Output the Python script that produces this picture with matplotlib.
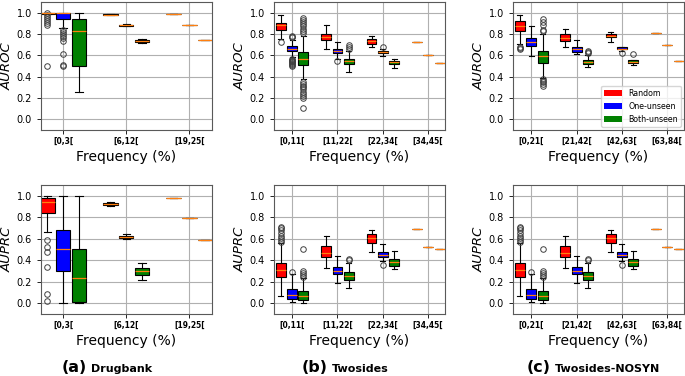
import matplotlib
matplotlib.use("Agg")
import matplotlib.pyplot as plt
from matplotlib.patches import Patch

# box stats per bin: (whislo, q1, med, q3, whishi, fliers)
methods = ["Random", "One-unseen", "Both-unseen"]
colors = ["#ff0000", "#0000ff", "#008000"]

db_bins = ["[0,3[", "[6,12[", "[19,25["]
db_auroc = {
    "Random": [(0.985, 0.99, 1.0, 1.0, 1.0, [1.0, 0.98, 0.96, 0.94, 0.92, 0.90, 0.88, 0.50]),
               (0.975, 0.978, 0.98, 0.983, 0.985, []),
               (0.99, 0.99, 0.99, 0.99, 0.99, [])],
    "One-unseen": [(0.86, 0.94, 1.0, 1.0, 1.0, [0.84, 0.82, 0.80, 0.78, 0.76, 0.73, 0.61, 0.51, 0.50]),
                   (0.87, 0.875, 0.88, 0.885, 0.89, []),
                   (0.88, 0.88, 0.88, 0.88, 0.88, [])],
    "Both-unseen": [(0.26, 0.50, 0.83, 0.94, 1.0, []),
                    (0.715, 0.72, 0.73, 0.74, 0.75, []),
                    (0.74, 0.74, 0.74, 0.74, 0.74, [])],
}
db_auprc = {
    "Random": [(0.66, 0.84, 0.94, 0.98, 1.0, [0.59, 0.52, 0.48, 0.34, 0.09, 0.02]),
               (0.90, 0.91, 0.92, 0.93, 0.94, []),
               (0.98, 0.98, 0.98, 0.98, 0.98, [])],
    "One-unseen": [(0.0, 0.30, 0.50, 0.68, 1.0, []),
                   (0.60, 0.61, 0.62, 0.63, 0.64, []),
                   (0.79, 0.79, 0.79, 0.79, 0.79, [])],
    "Both-unseen": [(0.0, 0.01, 0.23, 0.50, 1.0, []),
                    (0.22, 0.26, 0.30, 0.33, 0.37, []),
                    (0.59, 0.59, 0.59, 0.59, 0.59, [])],
}

ts_bins = ["[0,11[", "[11,22[", "[22,34[", "[34,45["]
ts_auroc = {
    "Random": [(0.75, 0.84, 0.88, 0.90, 0.98, [0.72]),
               (0.66, 0.74, 0.77, 0.80, 0.88, []),
               (0.68, 0.71, 0.73, 0.75, 0.78, []),
               (0.72, 0.72, 0.72, 0.72, 0.72, [])],
    "One-unseen": [(0.58, 0.64, 0.66, 0.69, 0.74, [0.77, 0.775, 0.78, 0.57, 0.56, 0.55, 0.545,
                                                   0.54, 0.53, 0.52, 0.51, 0.50]),
                   (0.57, 0.62, 0.64, 0.66, 0.72, [0.55]),
                   (0.59, 0.62, 0.63, 0.64, 0.66, [0.68]),
                   (0.60, 0.60, 0.60, 0.60, 0.60, [])],
    "Both-unseen": [(0.38, 0.51, 0.57, 0.63, 0.78, [0.95, 0.93, 0.91, 0.89, 0.87, 0.85, 0.83, 0.81,
                                                    0.35, 0.33, 0.31, 0.30, 0.28, 0.26, 0.24,
                                                    0.22, 0.20, 0.11]),
                    (0.44, 0.52, 0.55, 0.57, 0.64, [0.66, 0.68, 0.70]),
                    (0.48, 0.52, 0.54, 0.55, 0.57, []),
                    (0.53, 0.53, 0.53, 0.53, 0.53, [])],
}
ts_auprc = {
    "Random": [(0.07, 0.24, 0.31, 0.37, 0.56, [0.57, 0.59, 0.61, 0.63, 0.65, 0.68, 0.70, 0.71]),
               (0.33, 0.43, 0.47, 0.53, 0.63, []),
               (0.48, 0.56, 0.61, 0.64, 0.68, []),
               (0.69, 0.69, 0.69, 0.69, 0.69, [])],
    "One-unseen": [(0.01, 0.04, 0.08, 0.13, 0.27, [0.29]),
                   (0.19, 0.27, 0.30, 0.34, 0.44, []),
                   (0.39, 0.43, 0.45, 0.48, 0.55, [0.36]),
                   (0.52, 0.52, 0.52, 0.52, 0.52, [])],
    "Both-unseen": [(0.0, 0.03, 0.07, 0.11, 0.23, [0.24, 0.26, 0.28, 0.30, 0.50]),
                    (0.14, 0.22, 0.25, 0.29, 0.37, [0.40, 0.41]),
                    (0.32, 0.35, 0.38, 0.41, 0.49, []),
                    (0.50, 0.50, 0.50, 0.50, 0.50, [])],
}

ns_bins = ["[0,21[", "[21,42[", "[42,63[", "[63,84["]
ns_auroc = {
    "Random": [(0.71, 0.83, 0.87, 0.92, 0.98, [0.68, 0.67, 0.66]),
               (0.68, 0.73, 0.76, 0.80, 0.85, []),
               (0.72, 0.77, 0.78, 0.80, 0.82, []),
               (0.81, 0.81, 0.81, 0.81, 0.81, [])],
    "One-unseen": [(0.59, 0.69, 0.72, 0.76, 0.87, []),
                   (0.61, 0.63, 0.66, 0.68, 0.74, []),
                   (0.64, 0.655, 0.66, 0.675, 0.68, [0.62]),
                   (0.70, 0.70, 0.70, 0.70, 0.70, [])],
    "Both-unseen": [(0.39, 0.53, 0.59, 0.64, 0.80, [0.94, 0.91, 0.88, 0.84, 0.83,
                                                    0.38, 0.36, 0.35, 0.33, 0.31]),
                    (0.49, 0.52, 0.54, 0.56, 0.60, [0.62, 0.63, 0.64]),
                    (0.51, 0.53, 0.54, 0.56, 0.56, [0.61]),
                    (0.55, 0.55, 0.55, 0.55, 0.55, [])],
}
ns_auprc = {
    "Random": [(0.07, 0.24, 0.31, 0.37, 0.56, [0.57, 0.59, 0.61, 0.63, 0.65, 0.68, 0.70, 0.71]),
               (0.33, 0.43, 0.47, 0.53, 0.63, []),
               (0.48, 0.56, 0.61, 0.64, 0.68, []),
               (0.69, 0.69, 0.69, 0.69, 0.69, [])],
    "One-unseen": [(0.01, 0.04, 0.08, 0.13, 0.27, [0.29]),
                   (0.19, 0.27, 0.30, 0.34, 0.44, []),
                   (0.39, 0.43, 0.45, 0.48, 0.55, [0.36]),
                   (0.52, 0.52, 0.52, 0.52, 0.52, [])],
    "Both-unseen": [(0.0, 0.03, 0.07, 0.11, 0.23, [0.24, 0.26, 0.28, 0.30, 0.50]),
                    (0.14, 0.22, 0.25, 0.29, 0.37, [0.40, 0.41]),
                    (0.32, 0.35, 0.38, 0.41, 0.49, []),
                    (0.50, 0.50, 0.50, 0.50, 0.50, [])],
}

panels = [
    (db_bins, db_auroc, db_auprc, "(a)", "Drugbank"),
    (ts_bins, ts_auroc, ts_auprc, "(b)", "Twosides"),
    (ns_bins, ns_auroc, ns_auprc, "(c)", "Twosides-NOSYN"),
]


def draw(ax, bins, data, ylabel):
    n = len(bins)
    for k, (m, c) in enumerate(zip(methods, colors)):
        stats = []
        for s in data[m]:
            stats.append(dict(whislo=s[0], q1=s[1], med=s[2], q3=s[3], whishi=s[4], fliers=s[5]))
        pos = [i + 1 + (k - 1) * 0.25 for i in range(n)]
        ax.bxp(stats, positions=pos, widths=0.23 if n == 3 else 0.22,
               patch_artist=True, manage_ticks=False,
               boxprops=dict(facecolor=c, edgecolor="black", linewidth=0.8),
               medianprops=dict(color="#ff7f0e", linewidth=0.9),
               whiskerprops=dict(color="black", linewidth=0.8),
               capprops=dict(color="black", linewidth=0.8),
               flierprops=dict(marker="o", markerfacecolor="none",
                               markeredgecolor="0.25", markersize=4, markeredgewidth=0.7))
    ax.set_xticks(range(1, n + 1))
    ax.set_xticklabels(bins, fontsize=5.5, fontweight="bold")
    if n == 3:
        ax.set_xlim(0.65, 3.36)
    else:
        ax.set_xlim(0.6, 4.37)
    ax.set_ylim(-0.1, 1.1)
    ax.set_yticks([0.0, 0.2, 0.4, 0.6, 0.8, 1.0])
    ax.tick_params(axis="y", labelsize=7, length=3, width=0.6)
    ax.tick_params(axis="x", length=3, width=0.6, pad=2)
    ax.set_ylabel(ylabel, fontsize=9.5, fontstyle="italic", labelpad=2)
    ax.set_xlabel("Frequency (%)", fontsize=10, labelpad=3)
    ax.grid(True, color="#b0b0b0", linewidth=0.8)
    ax.set_axisbelow(True)
    for sp in ax.spines.values():
        sp.set_color("0.35")


fig = plt.figure(figsize=(6.85, 3.76), dpi=100)
lefts = [0.0599, 0.4, 0.749]
tag_x = [62, 302, 527]
tags = []
for j, (bins, auroc, auprc, tag, name) in enumerate(panels):
    ax1 = fig.add_axes([lefts[j], 0.654, 0.2496, 0.341])
    draw(ax1, bins, auroc, "AUROC")
    ax2 = fig.add_axes([lefts[j], 0.165, 0.2496, 0.343])
    draw(ax2, bins, auprc, "AUPRC")
    if j == 2:
        handles = [Patch(facecolor=c, label=m) for m, c in zip(methods, colors)]
        ax1.legend(handles=handles, loc="lower right", fontsize=5.7,
                   borderaxespad=0.4, handlelength=2.2)
    t = fig.text(tag_x[j] / 685, 0.011, tag, fontsize=11.5, fontweight="bold", va="baseline")
    tags.append((t, name))

# put the dataset name just right of its (a)/(b)/(c) tag
fig.canvas.draw()
r = fig.canvas.get_renderer()
for t, name in tags:
    bb = t.get_window_extent(renderer=r)
    fig.text((bb.x1 + 4) / 685, 0.011, name, fontsize=8, fontweight="bold", va="baseline")

fig.savefig("out.png", dpi=100)
